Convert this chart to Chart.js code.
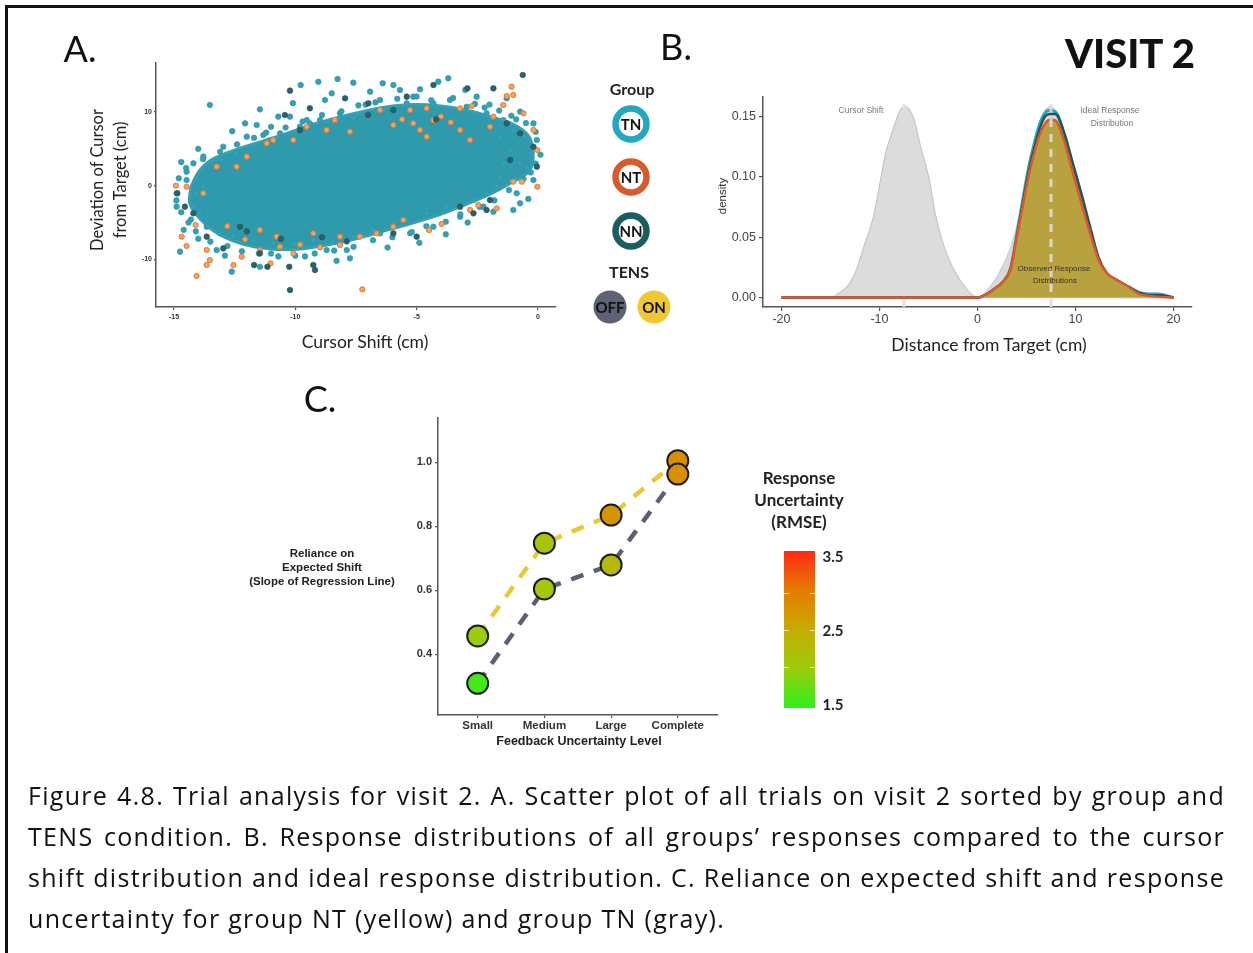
<!DOCTYPE html>
<html><head><meta charset="utf-8">
<script src="https://cdn.jsdelivr.net/npm/chart.js@4.4.1/dist/chart.umd.min.js"></script>
<style>
html,body{margin:0;padding:0;background:#fff;}
#root{position:relative;width:1253px;height:953px;overflow:hidden;font-family:Lato,"Open Sans",sans-serif;color:#111;background:#fff;}
.t{position:absolute;white-space:nowrap;line-height:1;transform:translate(-50%,-50%);}
.box{position:absolute;}
.cap{position:absolute;left:28px;width:1197px;font-family:"Open Sans",sans-serif;font-size:25px;letter-spacing:1.3px;line-height:41px;height:41px;text-align:justify;text-align-last:justify;white-space:nowrap;color:#111;}
</style></head>
<body><div id="root">
<div class="box" style="left:5px;top:5px;width:1248px;height:2.5px;background:#111"></div>
<div class="box" style="left:5px;top:5px;width:2.5px;height:948px;background:#111"></div>
<div class="box" style="left:100px;top:50px;width:470px;height:290px"><canvas id="cA" width="470" height="290"></canvas></div>
<div class="box" style="left:700px;top:85px;width:505px;height:245px"><canvas id="cB" width="505" height="245"></canvas></div>
<div class="box" style="left:400px;top:405px;width:330px;height:335px"><canvas id="cC" width="330" height="335"></canvas></div>
<svg class="box" style="left:0;top:0" width="1253" height="953" id="leg"></svg>
<div id="cbar" class="box" style="left:784px;top:551px;width:31px;height:157px;background:linear-gradient(to top,#2ef01c 0%,#9ccc0e 25%,#c6ac00 50%,#e47c00 75%,#ff2a14 100%)"></div>
</div>
<script>
// ---------------- DATA ----------------
// Panel A: cursor shift (x, cm) vs deviation of cursor from target (y, cm)
// outline of the dense (overplotted) trial cloud
const tnCoreOutline = [[-14.3,-0.14],[-14.0,1.8],[-13.5,3.4],[-12.7,4.6],[-11.8,5.6],[-10.9,6.5],[-10.0,7.5],[-9.2,8.4],[-8.3,9.2],[-7.3,10.0],[-6.2,10.7],[-5.1,11.0],[-4.0,10.8],[-2.9,10.2],[-1.9,9.3],[-1.0,8.3],[-0.4,6.8],[-0.2,4.5],[-0.35,2.0],[-1.1,0.4],[-2.0,-1.2],[-3.0,-2.6],[-4.1,-4.0],[-5.3,-5.2],[-6.4,-6.2],[-7.5,-7.2],[-8.6,-8.0],[-9.8,-8.6],[-11.0,-8.6],[-12.2,-7.9],[-13.2,-6.5],[-13.9,-4.6],[-14.35,-2.4],[-14.3,-0.14]];
const tnPoints = [[-13.52,10.95],[-11.46,10.36],[-12.07,8.46],[-11.59,8.24],[-10.70,9.37],[-9.78,13.67],[-9.05,14.1],[-8.26,14.48],[-8.78,11.63],[-8.50,12.53],[-7.61,13.98],[-6.92,12.76],[-5.96,13.67],[-5.69,12.99],[-5.14,12.08],[-4.86,13.08],[-4.11,14.12],[-3.70,14.57],[-9.53,8.91],[-10.22,9.37],[-6.51,11.63],[-2.53,12.08],[-1.29,11.86],[-0.74,10.05],[-0.19,8.46],[-0.05,6.2],[-0.33,4.39],[-0.47,2.58],[-0.19,0.77],[-0.88,-1.04],[-0.74,-2.4],[-1.02,-3.3],[-1.84,-3.53],[-2.25,-2.85],[-3.21,-4.21],[-4.31,-5.57],[-4.89,-7.74],[-5.27,-6.47],[-6.51,-6.47],[-7.75,-9.86],[-7.88,-8.73],[-8.71,-8.73],[-11.46,-11.0],[-12.62,-11.67],[-13.24,-8.73],[-14.75,-8.96],[-14.89,-2.85],[-14.89,-1.04],[-14.48,0.77],[-14.20,3.03],[-14.48,1.9],[-13.79,3.94],[-12.97,5.29],[-13.04,3.48],[-12.42,4.39],[-12.0,6.65],[-11.32,6.88],[-10.63,7.1],[-9.81,8.0],[-9.40,8.46],[-8.98,8.91],[-8.16,9.82],[-7.61,9.14],[-6.37,10.27],[-5.41,11.18],[-4.31,11.18],[-3.63,11.63],[-2.94,10.72],[-2.12,9.82],[-1.43,8.91],[-1.02,7.56],[-1.57,6.65],[-1.15,4.84],[-1.43,3.03],[-0.74,3.03],[-1.57,1.22],[-1.15,0.77],[-1.70,-0.14],[-2.12,-1.04],[-2.66,-1.95],[-3.76,-2.85],[-4.59,-3.76],[-5.41,-4.66],[-5.96,-5.11],[-6.79,-6.02],[-7.61,-6.92],[-8.43,-7.38],[-9.26,-7.38],[-10.08,-7.83],[-10.91,-7.83],[-11.73,-7.38],[-12.55,-6.92],[-13.10,-6.47],[-13.65,-5.57],[-13.93,-3.76],[-14.20,-2.85],[-14.07,-1.04],[-13.79,-0.14],[-14.6,-6.0],[-14.3,-4.6],[-14.0,-7.2],[-12.9,-9.5],[-11.0,-9.2],[-9.6,-9.6],[-8.3,-10.2],[-6.2,-8.4],[-3.8,-6.6],[-2.9,-5.0],[-0.4,-1.8],[-0.3,1.8],[-0.6,6.8],[-0.9,9.0],[-2.0,11.0],[-3.0,13.0],[-6.4,13.9],[-7.1,11.0],[-10.1,11.2],[-11.0,8.0],[-12.6,7.4],[-14.0,5.0],[-14.7,3.2],
  [-13.8,3.6],[-13.1,4.6],[-12.4,5.6],[-11.7,6.5],[-11.2,7.2],[-10.4,7.9],[-9.7,8.7],[-8.9,9.6],[-8.1,10.1],[-7.4,10.9],[-6.7,11.3],[-5.8,11.8],[-5.0,12.1],[-4.4,11.6],[-3.5,11.9],[-2.6,11.1],[-2.2,10.6],[-1.6,10.2],[-1.1,9.5],[-0.5,8.5],[-0.1,7.3],[0.1,4.2],[-0.1,3.0],
  [-0.6,0.9],[-1.2,-0.6],[-1.8,-2.0],[-2.4,-2.9],[-3.2,-3.9],[-3.8,-4.9],[-4.6,-5.5],[-5.2,-6.3],[-6.0,-7.0],[-6.8,-7.4],[-7.6,-8.3],[-8.4,-8.8],[-9.2,-9.2],[-10.0,-9.5],[-10.7,-9.6],[-11.5,-9.2],[-12.2,-8.9],[-12.8,-8.2],[-13.5,-7.6],[-14.1,-6.2],[-14.4,-5.0],[-14.7,-3.6],[-14.9,-2.0],[-14.8,1.0],[-14.5,2.4]];
const nnPoints = [[-0.63,15.02],[-1.84,13.21],[-2.91,13.21],[-4.31,13.67],[-10.22,12.9],[-9.40,10.5],[-7.95,11.86],[-6.99,11.18],[-5.41,12.08],[-9.81,7.56],[-10.43,9.59],[-5.96,10.27],[-0.05,2.58],[-0.19,5.29],[-1.98,-1.95],[-2.66,-3.76],[-2.12,-3.3],[-5.0,-6.92],[-7.88,-7.56],[-9.26,-10.77],[-9.19,-11.45],[-10.25,-11.0],[-10.22,-14.16],[-11.70,-10.77],[-11.15,-11.0],[-12.97,-8.51],[-13.65,-6.92],[-14.55,-2.85],[-14.86,-1.04],[-14.20,-3.76],[-12.28,-5.57],[-11.46,-9.19],[-5.96,-6.47],[-3.21,-2.85],[-1.15,3.48],[-1.29,8.46],[-0.74,7.1],[-8.9,-7.0],[-10.6,-7.2],[-12.0,-6.2],[-4.2,9.0],[-7.0,9.6]];
const ntPoints = [[-14.92,0],[-14.07,-12.26],[-13.65,-10.77],[-13.52,-10.09],[-14.48,-8.19],[-14.68,-6.92],[-14.11,-5.34],[-13.65,-8.73],[-12.55,-10.77],[-12.21,-9.64],[-12.07,-7.29],[-11.46,-8.73],[-11.02,-10.54],[-10.63,-8.28],[-10.08,-9.19],[-8.98,-8.37],[-8.16,-8.05],[-7.24,-14.07],[-7.34,-6.92],[-6.65,-6.47],[-5.55,-4.66],[-4.49,-6.02],[-3.97,-5.2],[-2.80,-3.3],[-2.46,-2.62],[-1.70,-3.08],[-1.02,0.54],[-0.67,0.54],[-0.03,-0.14],[-0.03,4.84],[-0.19,7.56],[-0.60,9.82],[-1.02,12.31],[-1.09,13.44],[-1.29,12.17],[-1.43,10.95],[-2.73,10.81],[-3.21,10.5],[-4.59,10.5],[-5.27,10.27],[-6.51,10.27],[-5.96,8.24],[-4.86,7.56],[-4.59,6.65],[-3.21,7.56],[-2.80,6.2],[-8.37,8.91],[-8.71,7.56],[-9.53,8.0],[-10.08,6.2],[-10.91,6.2],[-11.18,5.75],[-12.0,3.94],[-12.42,2.58],[-13.24,2.58],[-13.79,-1.04],[-14.48,-0.14],[-1.84,9.37],[-1.98,8.0],[-7.75,7.33],[-4.31,8.91],[-5.14,8.46],[-11.46,-6.02],[-10.77,-6.92],[-9.26,-6.47],[-8.16,-6.92],[-5.96,-5.57],[-4.0,9.4],[-3.6,8.6],[-5.6,9.0],[-12.8,-5.5],[-9.8,-8.0]];
const xTicksA = [-15, -10, -5, 0];
const yTicksA = [-10, 0, 10];

// Panel B: density vs distance from target (cm)
const cursorShiftX = [-20,-14.8,-14.3,-13.3,-12.4,-11.6,-10.55,-9.9,-9.36,-8.7,-8.2,-7.9,-7.4,-6.9,-6.5,-5.8,-4.9,-4.3,-3.4,-2.2,-1.0,0,20];
const cursorShiftY = [0,0,0.003,0.009,0.022,0.042,0.069,0.097,0.120,0.137,0.149,0.155,0.158,0.155,0.148,0.125,0.097,0.069,0.042,0.020,0.006,0,0];
const idealX = [-20,0,1.0,2.2,3.4,4.3,4.9,5.8,6.5,6.9,7.4,7.9,8.2,8.7,9.36,9.9,10.55,11.6,12.4,13.3,14.3,14.8,20];
const idealY = [0,0,0.006,0.020,0.042,0.069,0.097,0.125,0.148,0.155,0.158,0.155,0.149,0.137,0.120,0.097,0.069,0.042,0.022,0.009,0.003,0,0];
const tnDensX = [-20,0,1.0,1.7,2.6,3.4,3.9,4.6,5.2,5.8,6.4,6.9,7.4,7.9,8.2,8.9,9.7,10.7,11.6,12.4,13.2,14.3,15.4,16.5,17.5,18.4,20];
const tnDensY = [0,0,0.003,0.007,0.013,0.025,0.047,0.080,0.107,0.128,0.145,0.153,0.155,0.154,0.151,0.133,0.108,0.078,0.052,0.031,0.020,0.014,0.009,0.004,0.003,0.003,0];
const nnDensX = [-20,0,1.0,1.7,2.6,3.4,3.9,4.6,5.2,5.8,6.4,6.9,7.4,7.9,8.2,8.9,9.7,10.7,11.6,12.4,13.2,14.3,15.4,16.5,17.5,18.4,20];
const nnDensY = [0,0,0.003,0.007,0.013,0.024,0.045,0.077,0.103,0.124,0.141,0.150,0.152,0.152,0.150,0.135,0.112,0.083,0.055,0.032,0.020,0.014,0.009,0.004,0.002,0.002,0];
const ntDensX = [-20,0,1.0,1.7,2.6,3.4,3.9,4.6,5.2,5.8,6.4,6.9,7.3,7.8,8.2,8.9,9.7,10.7,11.6,12.4,13.2,14.3,15.4,16.5,18,20];
const ntDensY = [0,0,0.003,0.007,0.013,0.024,0.045,0.075,0.100,0.120,0.136,0.144,0.147,0.147,0.144,0.128,0.104,0.075,0.050,0.030,0.020,0.014,0.009,0.003,0.001,0];
const meanLines = [-7.5, 7.5];
const xTicksB = [-20, -10, 0, 10, 20];
const yTicksB = [0, 0.05, 0.10, 0.15];

// Panel C: reliance on expected shift by feedback uncertainty level
const levels = ['Small', 'Medium', 'Large', 'Complete'];
const ntSlope = [0.457, 0.747, 0.835, 1.005];
const tnSlope = [0.309, 0.604, 0.679, 0.963];
const ntRmse = [2.0, 2.15, 2.75, 2.8];
const tnRmse = [1.6, 2.1, 2.3, 2.8];
const yTicksC = [0.4, 0.6, 0.8, 1.0];
const rmseTicks = [1.5, 2.5, 3.5];

// ---------------- STYLE HELPERS ----------------
const root = document.getElementById('root');
function txt(s, cx, cy, font, color, extra) {
  const d = document.createElement('div');
  d.className = 't'; d.textContent = s;
  d.style.left = cx + 'px'; d.style.top = cy + 'px';
  d.style.font = font; d.style.color = color || '#111';
  if (extra) Object.assign(d.style, extra);
  root.appendChild(d); return d;
}
const pairs = a => a.map(p => ({x: p[0], y: p[1]}));
const zip = (xs, ys) => xs.map((x, i) => ({x, y: ys[i]}));
const fixTicks = vals => s => { s.ticks = vals.map(v => ({value: v})); };
const rmseStops = [[1.5,[46,240,28]],[2.0,[156,204,14]],[2.5,[198,172,0]],[3.0,[228,124,0]],[3.5,[255,42,20]]];
function rmseColor(v) {
  for (let i = 0; i < rmseStops.length - 1; i++) {
    const [a, ca] = rmseStops[i], [b, cb] = rmseStops[i + 1];
    if (v <= b) { const t = Math.max(0, (v - a) / (b - a));
      return 'rgb(' + ca.map((c, k) => Math.round(c + (cb[k] - c) * t)).join(',') + ')'; }
  }
  return 'rgb(255,42,20)';
}
const base = {responsive:false, animation:false, events:[], plugins:{legend:{display:false}, tooltip:{enabled:false}}};
function axisStyle(tickLen) {
  return {grid:{display:true, drawOnChartArea:false, drawTicks:true, tickLength:tickLen, color:'#555', lineWidth:1.2},
          border:{display:true, color:'#555', width:1.5}};
}

// ---------------- PANEL A ----------------
new Chart(document.getElementById('cA'), {
  type: 'scatter',
  data: {datasets: [
    {data: pairs(tnCoreOutline), showLine:true, fill:'shape', tension:0.3, pointRadius:0,
     backgroundColor:'#2f9aac', borderColor:'#35a0b3', borderWidth:3, order:10},
    {data: pairs(tnPoints), pointRadius:2.8, backgroundColor:'#34a0b4', borderColor:'#2a93a6', borderWidth:0.6, order:6},
    {data: pairs(ntPoints), pointRadius:2.6, backgroundColor:'#f2a468', borderColor:'#e4782c', borderWidth:1, order:5},
    {data: pairs(nnPoints), pointRadius:2.8, backgroundColor:'#2a626b', borderColor:'#1f5059', borderWidth:0.6, order:4}
  ]},
  options: Object.assign({}, base, {
    layout:{padding:{top:13, right:14, left:0, bottom:0}},
    scales:{
      x: Object.assign(axisStyle(3), {type:'linear', min:-15.74, max:0.74, afterBuildTicks:fixTicks(xTicksA),
        afterFit:s => { s.height = 33; },
        ticks:{font:{family:'Liberation Sans', size:7, weight:'bold'}, color:'#333', padding:3, maxRotation:0}}),
      y: Object.assign(axisStyle(2), {type:'linear', min:-16.47, max:16.65, afterBuildTicks:fixTicks(yTicksA),
        afterFit:s => { s.width = 56; },
        ticks:{font:{family:'Liberation Sans', size:7, weight:'bold'}, color:'#333', padding:2}})
    }
  })
});

// ---------------- PANEL B ----------------
const dashSets = meanLines.map(m => ({data:[{x:m, y:-0.0078}, {x:m, y:0.166}], showLine:true, pointRadius:0,
  borderColor:'rgba(222,222,222,0.9)', borderWidth:3, borderDash:[8,7], fill:false, order:1}));
new Chart(document.getElementById('cB'), {
  type: 'scatter',
  data: {datasets: [
    {data: zip(idealX, idealY), showLine:true, fill:'origin', pointRadius:0, cubicInterpolationMode:'monotone',
     backgroundColor:'rgba(214,214,214,0.9)', borderColor:'#cdcdcd', borderWidth:1.2, order:9},
    {data: zip(cursorShiftX, cursorShiftY), showLine:true, fill:'origin', pointRadius:0, cubicInterpolationMode:'monotone',
     backgroundColor:'rgba(218,218,218,0.95)', borderColor:'#c6c6c6', borderWidth:1.2, order:8},
    {data: zip(tnDensX, tnDensY), showLine:true, fill:false, pointRadius:0, cubicInterpolationMode:'monotone',
     borderColor:'#2aa4ba', borderWidth:3, order:7},
    {data: zip(nnDensX, nnDensY), showLine:true, fill:false, pointRadius:0, cubicInterpolationMode:'monotone',
     borderColor:'#1d5560', borderWidth:2.5, order:6},
    {data: zip(ntDensX, ntDensY), showLine:true, fill:'origin', pointRadius:0, cubicInterpolationMode:'monotone',
     backgroundColor:'#b7a23f', borderColor:'#e0572a', borderWidth:2.5, order:5},
    ...dashSets
  ]},
  options: Object.assign({}, base, {
    layout:{padding:{top:12, right:13, left:0, bottom:0}},
    scales:{
      x: Object.assign(axisStyle(4), {type:'linear', min:-21.88, max:21.88, afterBuildTicks:fixTicks(xTicksB),
        afterFit:s => { s.height = 23; },
        ticks:{font:{family:'Liberation Sans', size:12.5}, color:'#444', padding:1, maxRotation:0}}),
      y: Object.assign(axisStyle(4), {type:'linear', min:-0.0078, max:0.166, afterBuildTicks:fixTicks(yTicksB),
        afterFit:s => { s.width = 63; },
        ticks:{font:{family:'Liberation Sans', size:12.5}, color:'#444', padding:3, callback:v => v.toFixed(2)}})
    }
  })
});

// ---------------- PANEL C ----------------
const idx = levels.map((l, i) => i);
new Chart(document.getElementById('cC'), {
  type: 'scatter',
  data: {datasets: [
    {data: zip(idx, tnSlope), pointRadius:10.5, borderWidth:2, borderColor:'#1b1b1b',
     backgroundColor: tnRmse.map(rmseColor), order:1},
    {data: zip(idx, ntSlope), pointRadius:10.5, borderWidth:2, borderColor:'#1b1b1b',
     backgroundColor: ntRmse.map(rmseColor), order:2},
    {data: zip(idx, tnSlope), showLine:true, pointRadius:0, borderColor:'#5b6173', borderWidth:4.5, borderDash:[13,11], order:8},
    {data: zip(idx, ntSlope), showLine:true, pointRadius:0, borderColor:'#e8c935', borderWidth:4.5, borderDash:[13,11], order:9}
  ]},
  options: Object.assign({}, base, {
    layout:{padding:{top:12, right:10, left:0, bottom:0}},
    scales:{
      x: Object.assign(axisStyle(3), {type:'linear', min:-0.595, max:3.595, afterBuildTicks:fixTicks(idx),
        afterFit:s => { s.height = 25; },
        ticks:{font:{family:'Liberation Sans', size:11.5, weight:'bold'}, color:'#333', padding:1, maxRotation:0,
               callback:v => levels[v]}}),
      y: Object.assign(axisStyle(3), {type:'linear', min:0.21, max:1.14, afterBuildTicks:fixTicks(yTicksC),
        afterFit:s => { s.width = 38; },
        ticks:{font:{family:'Liberation Sans', size:11, weight:'bold'}, color:'#333', padding:3, callback:v => v.toFixed(1)}})
    }
  })
});

// ---------------- TEXT ----------------
txt('A.', 80, 48, '36px Lato', '#111');
txt('B.', 676, 46, '36px Lato', '#111');
txt('C.', 320, 398, '36px Lato', '#111');
txt('VISIT 2', 1130, 53, '900 40px Lato', '#111');
txt('Deviation of Cursor', 97, 180, '16.5px Lato', '#222', {transform:'translate(-50%,-50%) rotate(-90deg)'});
txt('from Target (cm)', 120, 180, '16.5px Lato', '#222', {transform:'translate(-50%,-50%) rotate(-90deg)'});
txt('Cursor Shift (cm)', 365, 341, '17.5px Lato', '#222');
txt('density', 722, 196, '11.5px "Liberation Sans"', '#333', {transform:'translate(-50%,-50%) rotate(-90deg)'});
txt('Distance from Target (cm)', 989, 344, '17.5px Lato', '#222');
txt('Cursor Shift', 861, 110, '8.5px "Liberation Sans"', '#777');
txt('Ideal Response', 1110, 110, '8.5px "Liberation Sans"', '#777');
txt('Distribution', 1112, 123, '8.5px "Liberation Sans"', '#777');
txt('Observed Response', 1054, 268, '8px "Liberation Sans"', '#333');
txt('Distributions', 1055, 280, '8px "Liberation Sans"', '#333');
txt('Reliance on', 322, 553, 'bold 11.5px "Liberation Sans"', '#222');
txt('Expected Shift', 322, 567, 'bold 11.5px "Liberation Sans"', '#222');
txt('(Slope of Regression Line)', 322, 581, 'bold 11.5px "Liberation Sans"', '#222');
txt('Feedback Uncertainty Level', 579, 741, 'bold 12.5px "Liberation Sans"', '#222');
txt('Response', 799, 477, 'bold 17px Lato', '#222');
txt('Uncertainty', 799, 499, 'bold 17px Lato', '#222');
txt('(RMSE)', 799, 521, 'bold 17px Lato', '#222');
rmseTicks.forEach(v => {
  const y = 704 - (v - 1.5) / 2 * 148;
  txt(v.toFixed(1), 833, y, 'bold 15px Lato', '#222');
});
[2.0, 2.5, 3.0].forEach(v => {
  const y = 704 - (v - 1.5) / 2 * 148;
  [784, 810].forEach(x => { const d = document.createElement('div'); d.className = 'box';
    Object.assign(d.style, {left:x + 'px', top:(y - 0.5) + 'px', width:'5px', height:'1px', background:'rgba(255,255,255,0.7)'});
    root.appendChild(d); });
});
txt('Group', 632, 88, 'bold 16px Lato', '#222');
txt('TENS', 629, 271, 'bold 16px Lato', '#222');

// legend symbols (svg)
const svg = document.getElementById('leg');
const ns = 'http://www.w3.org/2000/svg';
function svgEl(tag, attrs, text) { const e = document.createElementNS(ns, tag);
  for (const k in attrs) e.setAttribute(k, attrs[k]); if (text) e.textContent = text; svg.appendChild(e); return e; }
[['TN', 124, '#22a9c0'], ['NT', 177, '#d85a2c'], ['NN', 231, '#1b5d60']].forEach(([lab, cy, col]) => {
  svgEl('circle', {cx:631, cy:cy, r:15.5, fill:'#fff', stroke:col, 'stroke-width':6.5});
  svgEl('text', {x:631, y:cy + 5.5, 'text-anchor':'middle', 'font-family':'Lato', 'font-weight':'bold', 'font-size':15, fill:'#111'}, lab);
});
[['OFF', 610, '#5d6275'], ['ON', 654, '#f0c832']].forEach(([lab, cx, col]) => {
  svgEl('circle', {cx:cx, cy:307, r:16.5, fill:col});
  svgEl('text', {x:cx, y:312.5, 'text-anchor':'middle', 'font-family':'Lato', 'font-weight':'bold', 'font-size':15, fill:'#111'}, lab);
});

// caption
const captionLines = [
  'Figure 4.8. Trial analysis for visit 2. A. Scatter plot of all trials on visit 2 sorted by group and',
  'TENS condition. B. Response distributions of all groups\u2019 responses compared to the cursor',
  'shift distribution and ideal response distribution. C. Reliance on expected shift and response',
  'uncertainty for group NT (yellow) and group TN (gray).'
];
captionLines.forEach((l, i) => {
  const d = document.createElement('div'); d.className = 'cap'; d.textContent = l;
  d.style.top = (775 + i * 41) + 'px';
  if (i === captionLines.length - 1) { d.style.textAlign = 'left'; d.style.textAlignLast = 'left'; }
  root.appendChild(d);
});
</script>
</body></html>
